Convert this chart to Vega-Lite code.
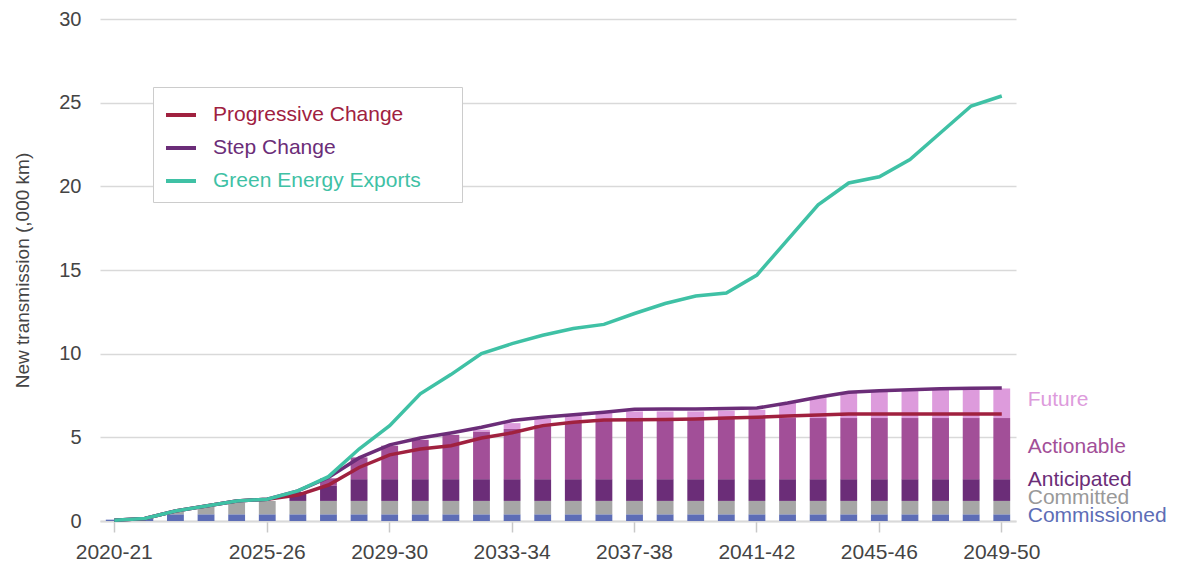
{
  "$schema": "https://vega.github.io/schema/vega-lite/v6.json",
  "width": 916,
  "height": 502,
  "autosize": {"type": "none"},
  "padding": {"left": 100, "top": 19, "right": 162, "bottom": 45},
  "background": "white",
  "config": {
    "font": "Liberation Sans",
    "view": {"stroke": null},
    "axis": {"labelFont": "Liberation Sans", "titleFont": "Liberation Sans", "labelFontSize": 20, "labelColor": "#444", "titleColor": "#444", "titleFontWeight": "normal", "titleFontSize": 19}
  },
  "datasets": {
    "bars": [
      {"year": "2020-21", "status": "Commissioned", "km": 0.08},
      {"year": "2021-22", "status": "Commissioned", "km": 0.15},
      {"year": "2022-23", "status": "Commissioned", "km": 0.4},
      {"year": "2022-23", "status": "Committed", "km": 0.15},
      {"year": "2023-24", "status": "Commissioned", "km": 0.4},
      {"year": "2023-24", "status": "Committed", "km": 0.45},
      {"year": "2024-25", "status": "Commissioned", "km": 0.4},
      {"year": "2024-25", "status": "Committed", "km": 0.7},
      {"year": "2025-26", "status": "Commissioned", "km": 0.4},
      {"year": "2025-26", "status": "Committed", "km": 0.8},
      {"year": "2026-27", "status": "Commissioned", "km": 0.4},
      {"year": "2026-27", "status": "Committed", "km": 0.8},
      {"year": "2026-27", "status": "Anticipated", "km": 0.53},
      {"year": "2027-28", "status": "Commissioned", "km": 0.4},
      {"year": "2027-28", "status": "Committed", "km": 0.8},
      {"year": "2027-28", "status": "Anticipated", "km": 0.9},
      {"year": "2027-28", "status": "Actionable", "km": 0.45},
      {"year": "2028-29", "status": "Commissioned", "km": 0.4},
      {"year": "2028-29", "status": "Committed", "km": 0.8},
      {"year": "2028-29", "status": "Anticipated", "km": 1.3},
      {"year": "2028-29", "status": "Actionable", "km": 1.3},
      {"year": "2029-30", "status": "Commissioned", "km": 0.4},
      {"year": "2029-30", "status": "Committed", "km": 0.8},
      {"year": "2029-30", "status": "Anticipated", "km": 1.3},
      {"year": "2029-30", "status": "Actionable", "km": 2.0},
      {"year": "2030-31", "status": "Commissioned", "km": 0.4},
      {"year": "2030-31", "status": "Committed", "km": 0.8},
      {"year": "2030-31", "status": "Anticipated", "km": 1.3},
      {"year": "2030-31", "status": "Actionable", "km": 2.35},
      {"year": "2031-32", "status": "Commissioned", "km": 0.4},
      {"year": "2031-32", "status": "Committed", "km": 0.8},
      {"year": "2031-32", "status": "Anticipated", "km": 1.3},
      {"year": "2031-32", "status": "Actionable", "km": 2.65},
      {"year": "2032-33", "status": "Commissioned", "km": 0.4},
      {"year": "2032-33", "status": "Committed", "km": 0.8},
      {"year": "2032-33", "status": "Anticipated", "km": 1.3},
      {"year": "2032-33", "status": "Actionable", "km": 2.85},
      {"year": "2032-33", "status": "Future", "km": 0.1},
      {"year": "2033-34", "status": "Commissioned", "km": 0.4},
      {"year": "2033-34", "status": "Committed", "km": 0.8},
      {"year": "2033-34", "status": "Anticipated", "km": 1.3},
      {"year": "2033-34", "status": "Actionable", "km": 3.0},
      {"year": "2033-34", "status": "Future", "km": 0.35},
      {"year": "2034-35", "status": "Commissioned", "km": 0.4},
      {"year": "2034-35", "status": "Committed", "km": 0.8},
      {"year": "2034-35", "status": "Anticipated", "km": 1.3},
      {"year": "2034-35", "status": "Actionable", "km": 3.24},
      {"year": "2034-35", "status": "Future", "km": 0.36},
      {"year": "2035-36", "status": "Commissioned", "km": 0.4},
      {"year": "2035-36", "status": "Committed", "km": 0.8},
      {"year": "2035-36", "status": "Anticipated", "km": 1.3},
      {"year": "2035-36", "status": "Actionable", "km": 3.4},
      {"year": "2035-36", "status": "Future", "km": 0.43},
      {"year": "2036-37", "status": "Commissioned", "km": 0.4},
      {"year": "2036-37", "status": "Committed", "km": 0.8},
      {"year": "2036-37", "status": "Anticipated", "km": 1.3},
      {"year": "2036-37", "status": "Actionable", "km": 3.6},
      {"year": "2036-37", "status": "Future", "km": 0.37},
      {"year": "2037-38", "status": "Commissioned", "km": 0.4},
      {"year": "2037-38", "status": "Committed", "km": 0.8},
      {"year": "2037-38", "status": "Anticipated", "km": 1.3},
      {"year": "2037-38", "status": "Actionable", "km": 3.65},
      {"year": "2037-38", "status": "Future", "km": 0.4},
      {"year": "2038-39", "status": "Commissioned", "km": 0.4},
      {"year": "2038-39", "status": "Committed", "km": 0.8},
      {"year": "2038-39", "status": "Anticipated", "km": 1.3},
      {"year": "2038-39", "status": "Actionable", "km": 3.65},
      {"year": "2038-39", "status": "Future", "km": 0.4},
      {"year": "2039-40", "status": "Commissioned", "km": 0.4},
      {"year": "2039-40", "status": "Committed", "km": 0.8},
      {"year": "2039-40", "status": "Anticipated", "km": 1.3},
      {"year": "2039-40", "status": "Actionable", "km": 3.65},
      {"year": "2039-40", "status": "Future", "km": 0.4},
      {"year": "2040-41", "status": "Commissioned", "km": 0.4},
      {"year": "2040-41", "status": "Committed", "km": 0.8},
      {"year": "2040-41", "status": "Anticipated", "km": 1.3},
      {"year": "2040-41", "status": "Actionable", "km": 3.65},
      {"year": "2040-41", "status": "Future", "km": 0.45},
      {"year": "2041-42", "status": "Commissioned", "km": 0.4},
      {"year": "2041-42", "status": "Committed", "km": 0.8},
      {"year": "2041-42", "status": "Anticipated", "km": 1.3},
      {"year": "2041-42", "status": "Actionable", "km": 3.65},
      {"year": "2041-42", "status": "Future", "km": 0.5},
      {"year": "2042-43", "status": "Commissioned", "km": 0.4},
      {"year": "2042-43", "status": "Committed", "km": 0.8},
      {"year": "2042-43", "status": "Anticipated", "km": 1.3},
      {"year": "2042-43", "status": "Actionable", "km": 3.65},
      {"year": "2042-43", "status": "Future", "km": 0.9},
      {"year": "2043-44", "status": "Commissioned", "km": 0.4},
      {"year": "2043-44", "status": "Committed", "km": 0.8},
      {"year": "2043-44", "status": "Anticipated", "km": 1.3},
      {"year": "2043-44", "status": "Actionable", "km": 3.65},
      {"year": "2043-44", "status": "Future", "km": 1.25},
      {"year": "2044-45", "status": "Commissioned", "km": 0.4},
      {"year": "2044-45", "status": "Committed", "km": 0.8},
      {"year": "2044-45", "status": "Anticipated", "km": 1.3},
      {"year": "2044-45", "status": "Actionable", "km": 3.65},
      {"year": "2044-45", "status": "Future", "km": 1.55},
      {"year": "2045-46", "status": "Commissioned", "km": 0.4},
      {"year": "2045-46", "status": "Committed", "km": 0.8},
      {"year": "2045-46", "status": "Anticipated", "km": 1.3},
      {"year": "2045-46", "status": "Actionable", "km": 3.65},
      {"year": "2045-46", "status": "Future", "km": 1.63},
      {"year": "2046-47", "status": "Commissioned", "km": 0.4},
      {"year": "2046-47", "status": "Committed", "km": 0.8},
      {"year": "2046-47", "status": "Anticipated", "km": 1.3},
      {"year": "2046-47", "status": "Actionable", "km": 3.65},
      {"year": "2046-47", "status": "Future", "km": 1.68},
      {"year": "2047-48", "status": "Commissioned", "km": 0.4},
      {"year": "2047-48", "status": "Committed", "km": 0.8},
      {"year": "2047-48", "status": "Anticipated", "km": 1.3},
      {"year": "2047-48", "status": "Actionable", "km": 3.65},
      {"year": "2047-48", "status": "Future", "km": 1.72},
      {"year": "2048-49", "status": "Commissioned", "km": 0.4},
      {"year": "2048-49", "status": "Committed", "km": 0.8},
      {"year": "2048-49", "status": "Anticipated", "km": 1.3},
      {"year": "2048-49", "status": "Actionable", "km": 3.65},
      {"year": "2048-49", "status": "Future", "km": 1.75},
      {"year": "2049-50", "status": "Commissioned", "km": 0.4},
      {"year": "2049-50", "status": "Committed", "km": 0.8},
      {"year": "2049-50", "status": "Anticipated", "km": 1.3},
      {"year": "2049-50", "status": "Actionable", "km": 3.65},
      {"year": "2049-50", "status": "Future", "km": 1.77}
    ],
    "lines": [
      {"year": "2020-21", "scenario": "Progressive Change", "km": 0.05},
      {"year": "2021-22", "scenario": "Progressive Change", "km": 0.15},
      {"year": "2022-23", "scenario": "Progressive Change", "km": 0.6},
      {"year": "2023-24", "scenario": "Progressive Change", "km": 0.9},
      {"year": "2024-25", "scenario": "Progressive Change", "km": 1.2},
      {"year": "2025-26", "scenario": "Progressive Change", "km": 1.3},
      {"year": "2026-27", "scenario": "Progressive Change", "km": 1.55},
      {"year": "2027-28", "scenario": "Progressive Change", "km": 2.15},
      {"year": "2028-29", "scenario": "Progressive Change", "km": 3.2},
      {"year": "2029-30", "scenario": "Progressive Change", "km": 3.95},
      {"year": "2030-31", "scenario": "Progressive Change", "km": 4.3},
      {"year": "2031-32", "scenario": "Progressive Change", "km": 4.5},
      {"year": "2032-33", "scenario": "Progressive Change", "km": 4.96},
      {"year": "2033-34", "scenario": "Progressive Change", "km": 5.27},
      {"year": "2034-35", "scenario": "Progressive Change", "km": 5.7},
      {"year": "2035-36", "scenario": "Progressive Change", "km": 5.9},
      {"year": "2036-37", "scenario": "Progressive Change", "km": 6.03},
      {"year": "2037-38", "scenario": "Progressive Change", "km": 6.05},
      {"year": "2038-39", "scenario": "Progressive Change", "km": 6.07},
      {"year": "2039-40", "scenario": "Progressive Change", "km": 6.1},
      {"year": "2040-41", "scenario": "Progressive Change", "km": 6.15},
      {"year": "2041-42", "scenario": "Progressive Change", "km": 6.2},
      {"year": "2042-43", "scenario": "Progressive Change", "km": 6.27},
      {"year": "2043-44", "scenario": "Progressive Change", "km": 6.33},
      {"year": "2044-45", "scenario": "Progressive Change", "km": 6.4},
      {"year": "2045-46", "scenario": "Progressive Change", "km": 6.4},
      {"year": "2046-47", "scenario": "Progressive Change", "km": 6.4},
      {"year": "2047-48", "scenario": "Progressive Change", "km": 6.4},
      {"year": "2048-49", "scenario": "Progressive Change", "km": 6.4},
      {"year": "2049-50", "scenario": "Progressive Change", "km": 6.4},
      {"year": "2020-21", "scenario": "Step Change", "km": 0.05},
      {"year": "2021-22", "scenario": "Step Change", "km": 0.15},
      {"year": "2022-23", "scenario": "Step Change", "km": 0.6},
      {"year": "2023-24", "scenario": "Step Change", "km": 0.9},
      {"year": "2024-25", "scenario": "Step Change", "km": 1.2},
      {"year": "2025-26", "scenario": "Step Change", "km": 1.3},
      {"year": "2026-27", "scenario": "Step Change", "km": 1.8},
      {"year": "2027-28", "scenario": "Step Change", "km": 2.6},
      {"year": "2028-29", "scenario": "Step Change", "km": 3.77},
      {"year": "2029-30", "scenario": "Step Change", "km": 4.55},
      {"year": "2030-31", "scenario": "Step Change", "km": 4.96},
      {"year": "2031-32", "scenario": "Step Change", "km": 5.26},
      {"year": "2032-33", "scenario": "Step Change", "km": 5.6},
      {"year": "2033-34", "scenario": "Step Change", "km": 6.0},
      {"year": "2034-35", "scenario": "Step Change", "km": 6.2},
      {"year": "2035-36", "scenario": "Step Change", "km": 6.35},
      {"year": "2036-37", "scenario": "Step Change", "km": 6.5},
      {"year": "2037-38", "scenario": "Step Change", "km": 6.68},
      {"year": "2038-39", "scenario": "Step Change", "km": 6.7},
      {"year": "2039-40", "scenario": "Step Change", "km": 6.7},
      {"year": "2040-41", "scenario": "Step Change", "km": 6.72},
      {"year": "2041-42", "scenario": "Step Change", "km": 6.75},
      {"year": "2042-43", "scenario": "Step Change", "km": 7.05},
      {"year": "2043-44", "scenario": "Step Change", "km": 7.4},
      {"year": "2044-45", "scenario": "Step Change", "km": 7.7},
      {"year": "2045-46", "scenario": "Step Change", "km": 7.78},
      {"year": "2046-47", "scenario": "Step Change", "km": 7.85},
      {"year": "2047-48", "scenario": "Step Change", "km": 7.9},
      {"year": "2048-49", "scenario": "Step Change", "km": 7.93},
      {"year": "2049-50", "scenario": "Step Change", "km": 7.95},
      {"year": "2020-21", "scenario": "Green Energy Exports", "km": 0.05},
      {"year": "2021-22", "scenario": "Green Energy Exports", "km": 0.15},
      {"year": "2022-23", "scenario": "Green Energy Exports", "km": 0.6},
      {"year": "2023-24", "scenario": "Green Energy Exports", "km": 0.9},
      {"year": "2024-25", "scenario": "Green Energy Exports", "km": 1.2},
      {"year": "2025-26", "scenario": "Green Energy Exports", "km": 1.3},
      {"year": "2026-27", "scenario": "Green Energy Exports", "km": 1.8},
      {"year": "2027-28", "scenario": "Green Energy Exports", "km": 2.65},
      {"year": "2028-29", "scenario": "Green Energy Exports", "km": 4.3},
      {"year": "2029-30", "scenario": "Green Energy Exports", "km": 5.7},
      {"year": "2030-31", "scenario": "Green Energy Exports", "km": 7.6},
      {"year": "2031-32", "scenario": "Green Energy Exports", "km": 8.75},
      {"year": "2032-33", "scenario": "Green Energy Exports", "km": 10.0},
      {"year": "2033-34", "scenario": "Green Energy Exports", "km": 10.6},
      {"year": "2034-35", "scenario": "Green Energy Exports", "km": 11.1},
      {"year": "2035-36", "scenario": "Green Energy Exports", "km": 11.5},
      {"year": "2036-37", "scenario": "Green Energy Exports", "km": 11.75},
      {"year": "2037-38", "scenario": "Green Energy Exports", "km": 12.4},
      {"year": "2038-39", "scenario": "Green Energy Exports", "km": 13.0},
      {"year": "2039-40", "scenario": "Green Energy Exports", "km": 13.45},
      {"year": "2040-41", "scenario": "Green Energy Exports", "km": 13.63},
      {"year": "2041-42", "scenario": "Green Energy Exports", "km": 14.7},
      {"year": "2042-43", "scenario": "Green Energy Exports", "km": 16.8},
      {"year": "2043-44", "scenario": "Green Energy Exports", "km": 18.9},
      {"year": "2044-45", "scenario": "Green Energy Exports", "km": 20.2},
      {"year": "2045-46", "scenario": "Green Energy Exports", "km": 20.57},
      {"year": "2046-47", "scenario": "Green Energy Exports", "km": 21.6},
      {"year": "2047-48", "scenario": "Green Energy Exports", "km": 23.2},
      {"year": "2048-49", "scenario": "Green Energy Exports", "km": 24.8},
      {"year": "2049-50", "scenario": "Green Energy Exports", "km": 25.4}
    ],
    "labels": [
      {"year": "2049-50", "status": "Future", "km": 7.23},
      {"year": "2049-50", "status": "Actionable", "km": 4.42},
      {"year": "2049-50", "status": "Anticipated", "km": 2.45},
      {"year": "2049-50", "status": "Committed", "km": 1.37},
      {"year": "2049-50", "status": "Commissioned", "km": 0.27}
    ]
  },
  "encoding": {
    "x": {
      "field": "year",
      "type": "ordinal",
      "sort": null,
      "scale": {"paddingInner": 0.45, "paddingOuter": 0.19},
      "axis": {
        "title": null,
        "labelAngle": 0,
        "labelFontSize": 21,
        "values": ["2020-21", "2025-26", "2029-30", "2033-34", "2037-38", "2041-42", "2045-46", "2049-50"],
        "domain": true,
        "domainColor": "#d9d9d9",
        "domainWidth": 2,
        "ticks": true,
        "tickColor": "#c8c8c8",
        "tickWidth": 1.5,
        "tickSize": 11,
        "labelPadding": 9,
        "grid": false
      }
    }
  },
  "layer": [
    {
      "data": {"name": "bars"},
      "transform": [
        {"calculate": "indexof(['Commissioned', 'Committed', 'Anticipated', 'Actionable', 'Future'], datum.status)", "as": "stackRank"}
      ],
      "mark": {"type": "bar"},
      "encoding": {
        "y": {
          "field": "km",
          "type": "quantitative",
          "stack": "zero",
          "scale": {"domain": [0, 30]},
          "axis": {
            "title": "New transmission (,000 km)",
            "values": [0, 5, 10, 15, 20, 25, 30],
            "domain": false,
            "ticks": false,
            "labelPadding": 19,
            "titlePadding": 26,
            "grid": true,
            "gridColor": "#d9d9d9",
            "gridWidth": 1.5
          }
        },
        "color": {
          "field": "status",
          "type": "nominal",
          "scale": {
            "domain": ["Commissioned", "Committed", "Anticipated", "Actionable", "Future"],
            "range": ["#5d6db6", "#a6a6a6", "#6b2d78", "#a24f98", "#dd9bdc"]
          },
          "legend": null
        },
        "order": {"field": "stackRank", "type": "quantitative", "sort": "ascending"}
      }
    },
    {
      "data": {"name": "lines"},
      "mark": {"type": "line", "strokeWidth": 3.5},
      "encoding": {
        "y": {"field": "km", "type": "quantitative"},
        "color": {
          "field": "scenario",
          "type": "nominal",
          "sort": ["Progressive Change", "Step Change", "Green Energy Exports"],
          "scale": {
            "domain": ["Progressive Change", "Step Change", "Green Energy Exports"],
            "range": ["#a0213f", "#6b2d78", "#3fc1a5"]
          },
          "legend": {
            "title": null,
            "orient": "none",
            "legendX": 53,
            "legendY": 68,
            "padding": 11,
            "fillColor": "white",
            "strokeColor": "#cccccc",
            "symbolType": "stroke",
            "symbolSize": 900,
            "symbolStrokeWidth": 4,
            "labelFont": "Liberation Sans",
            "labelFontSize": 21,
            "labelOffset": 15,
            "rowPadding": 6,
            "labelLimit": 400,
            "labelExpr": "datum.label + '\u2800\u2800'",
            "labelColor": {"expr": "datum.value === 'Progressive Change' ? '#a0213f' : datum.value === 'Step Change' ? '#6b2d78' : '#3fc1a5'"}
          }
        }
      }
    },
    {
      "data": {"name": "labels"},
      "mark": {"type": "text", "align": "left", "baseline": "middle", "dx": 26, "fontSize": 21, "font": "Liberation Sans"},
      "encoding": {
        "y": {"field": "km", "type": "quantitative"},
        "text": {"field": "status"},
        "color": {
          "field": "status",
          "type": "nominal",
          "scale": {
            "domain": ["Commissioned", "Committed", "Anticipated", "Actionable", "Future"],
            "range": ["#5d6db6", "#999999", "#6b2d78", "#a24f98", "#dd9bdc"]
          },
          "legend": null
        }
      }
    }
  ],
  "resolve": {"scale": {"color": "independent"}}
}
